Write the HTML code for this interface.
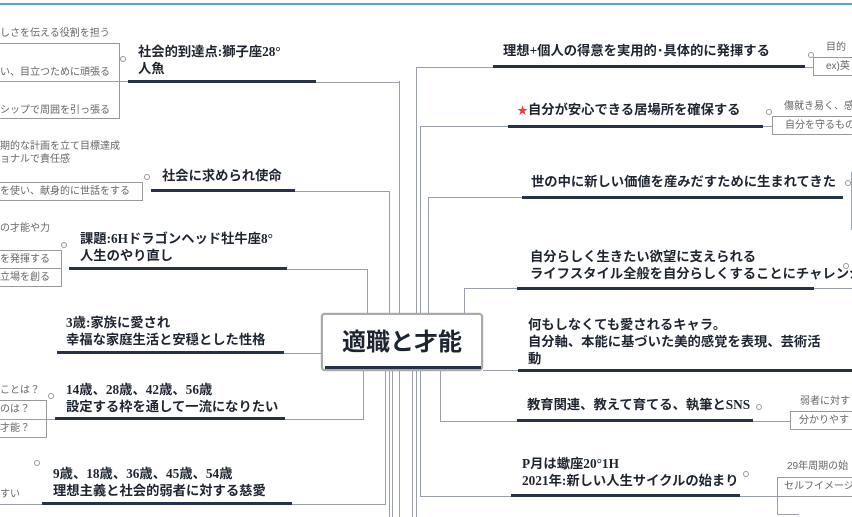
<!DOCTYPE html>
<html><head><meta charset="utf-8"><style>
body{margin:0;width:852px;height:517px;overflow:hidden;background:#fff;position:relative;font-family:"Liberation Sans","Noto Sans CJK JP",sans-serif}
div{position:absolute;box-sizing:border-box}
.t{font-weight:bold;font-size:13.3px;color:#1e2530;line-height:17px;white-space:nowrap;font-family:"Liberation Serif","Noto Sans CJK JP",sans-serif}
.u{height:3px;background:#253247}
.h{height:1px;background:#9aa0aa}
.v{width:1px;background:#9aa0aa}
.s{font-size:10px;color:#666;white-space:nowrap;line-height:13px}
.b{border:1px solid #999;font-size:10px;color:#666;white-space:nowrap;line-height:17px;padding-left:4px;overflow:hidden}
.c{width:6px;height:6px;border:1px solid #999;border-radius:50%;background:#fff}
</style></head><body>
<div style="left:0;top:3px;width:852px;height:2px;background:#4ea8de"></div>

<div class="v" style="left:399px;top:81px;height:436px"></div>
<div class="v" style="left:389px;top:191px;height:326px"></div>
<div class="v" style="left:367px;top:269px;height:45px"></div>
<div class="v" style="left:363px;top:371px;height:48px"></div>
<div class="v" style="left:385px;top:371px;height:134px"></div>
<div class="v" style="left:392px;top:371px;height:146px"></div>
<div class="v" style="left:416px;top:67px;height:450px"></div>
<div class="v" style="left:420px;top:126px;height:370px"></div>
<div class="v" style="left:428px;top:197px;height:117px"></div>
<div class="v" style="left:464px;top:288px;height:26px"></div>
<div class="v" style="left:440px;top:371px;height:50px"></div>
<div class="v" style="left:412px;top:371px;height:146px"></div>

<div class="h" style="left:316px;top:82px;width:84px"></div>
<div class="h" style="left:295px;top:191px;width:95px"></div>
<div class="h" style="left:287px;top:269px;width:81px"></div>
<div class="h" style="left:284px;top:353px;width:38px"></div>
<div class="h" style="left:285px;top:419px;width:79px"></div>
<div class="h" style="left:292px;top:504px;width:94px"></div>
<div class="h" style="left:416px;top:67px;width:78px"></div>
<div class="h" style="left:420px;top:126px;width:88px"></div>
<div class="h" style="left:428px;top:197px;width:94px"></div>
<div class="h" style="left:464px;top:288px;width:53px"></div>
<div class="h" style="left:483px;top:370px;width:35px"></div>
<div class="h" style="left:440px;top:421px;width:77px"></div>
<div class="h" style="left:420px;top:496px;width:91px"></div>

<div style="left:321px;top:313px;width:162px;height:58px;border:2px solid #aaa;border-radius:4px;background:#fff;box-shadow:0 0 1px #888"></div>
<div class="t" style="left:321px;top:325px;width:162px;text-align:center;font-size:24px;line-height:30px;font-family:'Noto Sans CJK JP',sans-serif">適職と才能</div>
<div class="u" style="left:325px;top:366px;width:156px"></div>

<div class="t" style="left:138px;top:43px">社会的到達点:獅子座28°<br>人魚</div>
<div class="u" style="left:128px;top:80px;width:188px"></div>
<div class="c" style="left:120px;top:56px"></div>
<div class="s" style="left:0;top:27px">しさを伝える役割を担う</div>
<div class="b" style="left:-5px;top:43px;width:125px;height:76px;border-left:none"></div>
<div class="s" style="left:0;top:66px">い、目立つために頑張る</div>
<div class="h" style="left:0;top:81px;width:128px"></div>
<div class="s" style="left:0;top:104px">シップで周囲を引っ張る</div>

<div class="t" style="left:162px;top:167px">社会に求められ使命</div>
<div class="u" style="left:151px;top:189px;width:144px"></div>
<div class="c" style="left:144px;top:174px"></div>
<div class="s" style="left:0;top:140px">期的な計画を立て目標達成<br>ョナルで責任感</div>
<div class="b" style="left:-5px;top:182px;width:148px;height:19px;line-height:17px;padding-left:4px">を使い、献身的に世話をする</div>

<div class="t" style="left:80px;top:230px">課題:6Hドラゴンヘッド牡牛座8°<br>人生のやり直し</div>
<div class="u" style="left:69px;top:267px;width:218px"></div>
<div class="c" style="left:61px;top:242px"></div>
<div class="s" style="left:0;top:222px">の才能や力</div>
<div class="b" style="left:-5px;top:250px;width:67px;height:19px;padding-left:4px">を発揮する</div>
<div class="b" style="left:-5px;top:268px;width:67px;height:19px;padding-left:4px">立場を創る</div>

<div class="t" style="left:66px;top:314px">3歳:家族に愛され<br>幸福な家庭生活と安穏とした性格</div>
<div class="u" style="left:57px;top:351px;width:227px"></div>

<div class="t" style="left:66px;top:381px">14歳、28歳、42歳、56歳<br>設定する枠を通して一流になりたい</div>
<div class="u" style="left:55px;top:417px;width:230px"></div>
<div class="c" style="left:48px;top:393px"></div>
<div class="s" style="left:0;top:384px">ことは？</div>
<div class="b" style="left:-5px;top:400px;width:52px;height:38px"></div>
<div class="s" style="left:0;top:403px">のは？</div>
<div class="h" style="left:0;top:419px;width:55px"></div>
<div class="s" style="left:0;top:422px">才能？</div>

<div class="t" style="left:53px;top:465px">9歳、18歳、36歳、45歳、54歳<br>理想主義と社会的弱者に対する慈愛</div>
<div class="u" style="left:42px;top:502px;width:250px"></div>
<div class="c" style="left:34px;top:460px"></div>
<div class="s" style="left:0;top:488px">すい</div>
<div class="h" style="left:0;top:504px;width:42px"></div>

<div class="t" style="left:503px;top:42px">理想+個人の得意を実用的･具体的に発揮する</div>
<div class="u" style="left:493px;top:65px;width:312px"></div>
<div class="c" style="left:808px;top:52px"></div>
<div class="s" style="left:826px;top:41px">目的</div>
<div class="b" style="left:813px;top:57px;width:45px;height:19px;padding-left:12px">ex)英</div>
<div class="h" style="left:805px;top:67px;width:8px"></div>

<div class="t" style="left:517px;top:101px"><span style="color:#e84040;font-size:11px">★</span>自分が安心できる居場所を確保する</div>
<div class="u" style="left:508px;top:125px;width:255px"></div>
<div class="c" style="left:766px;top:109px"></div>
<div class="s" style="left:784px;top:100px">傷就き易く、感</div>
<div class="b" style="left:772px;top:116px;width:86px;height:19px;padding-left:12px">自分を守るもの</div>
<div class="h" style="left:763px;top:126px;width:9px"></div>

<div class="t" style="left:531px;top:173px">世の中に新しい価値を産みだすために生まれてきた</div>
<div class="u" style="left:522px;top:196px;width:321px"></div>
<div class="c" style="left:845px;top:180px"></div>
<div class="v" style="left:851px;top:172px;height:58px"></div>

<div class="t" style="left:530px;top:248px">自分らしく生きたい欲望に支えられる<br>ライフスタイル全般を自分らしくすることにチャレンジ</div>
<div class="u" style="left:517px;top:287px;width:297px"></div>
<div class="c" style="left:843px;top:263px"></div>
<div class="h" style="left:814px;top:288px;width:38px"></div>

<div class="t" style="left:528px;top:316px">何もしなくても愛されるキャラ。<br>自分軸、本能に基づいた美的感覚を表現、芸術活<br>動</div>
<div class="u" style="left:518px;top:369px;width:334px"></div>

<div class="t" style="left:527px;top:396px">教育関連、教えて育てる、執筆とSNS</div>
<div class="u" style="left:517px;top:419px;width:236px"></div>
<div class="c" style="left:756px;top:404px"></div>
<div class="s" style="left:800px;top:395px">弱者に対す</div>
<div class="b" style="left:790px;top:411px;width:68px;height:19px;padding-left:8px">分かりやす</div>
<div class="h" style="left:753px;top:421px;width:37px"></div>

<div class="t" style="left:522px;top:455px">P月は蠍座20°1H<br>2021年:新しい人生サイクルの始まり</div>
<div class="u" style="left:511px;top:494px;width:229px"></div>
<div class="c" style="left:743px;top:471px"></div>
<div class="s" style="left:787px;top:460px">29年周期の始</div>
<div class="b" style="left:777px;top:477px;width:81px;height:20px;padding-left:6px">セルフイメージを</div>
<div class="h" style="left:740px;top:496px;width:37px"></div>
<div class="v" style="left:777px;top:497px;height:18px"></div>
<div class="h" style="left:777px;top:514px;width:22px"></div>
</body></html>
